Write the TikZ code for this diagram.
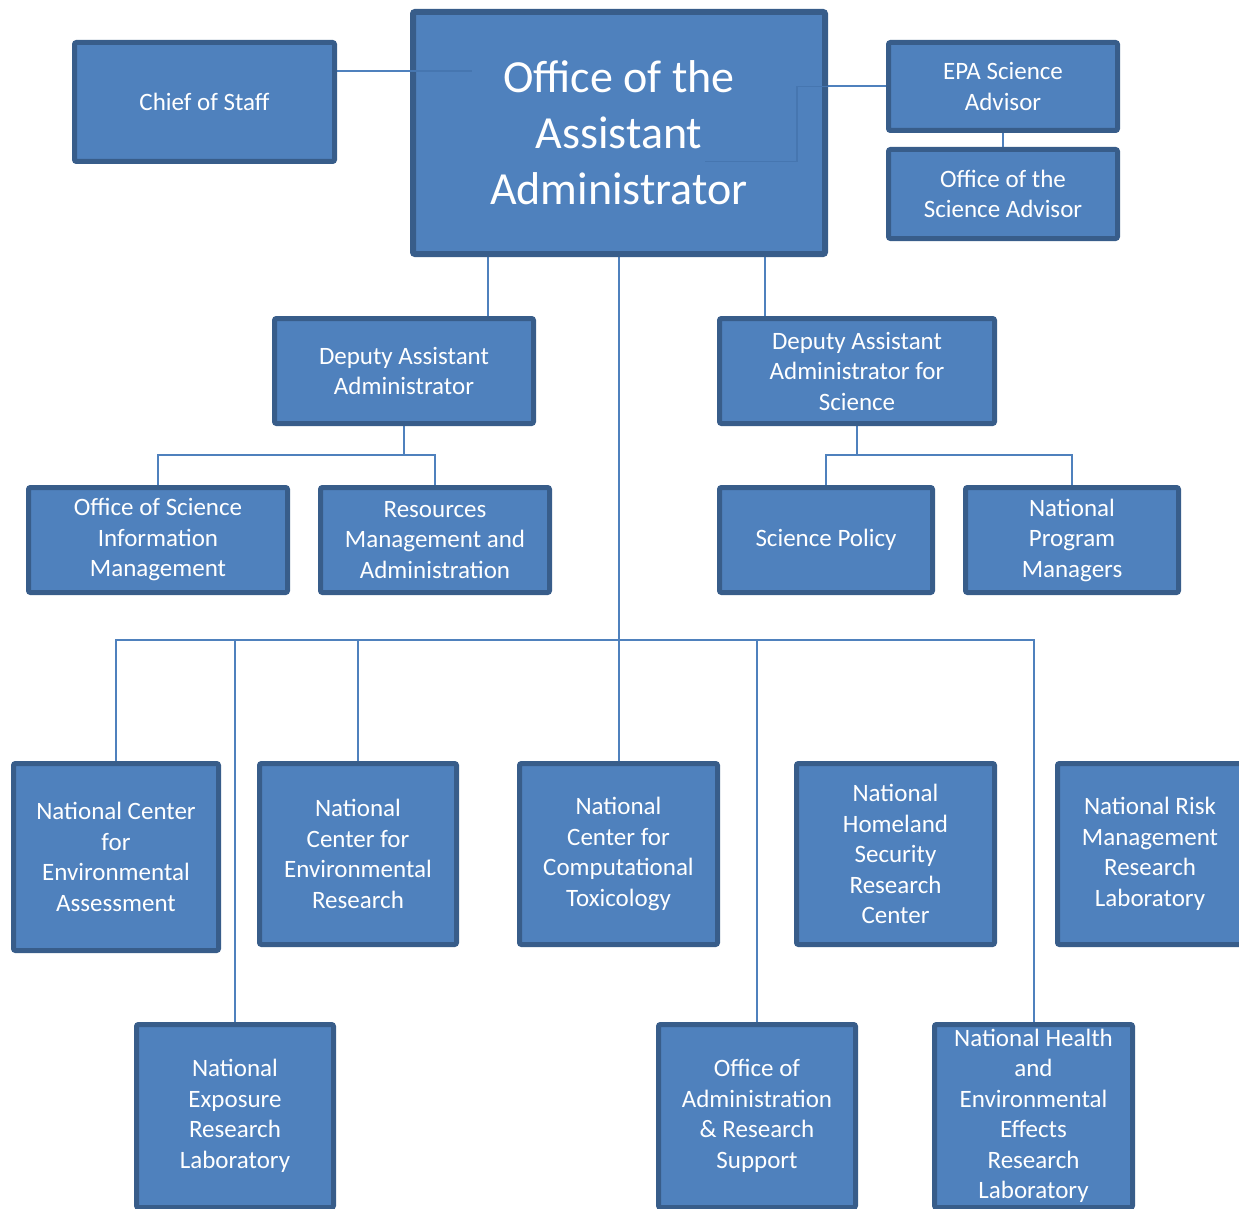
\documentclass[tikz,border=0pt]{standalone}
\usepackage{fontspec}
\setmainfont{Carlito}
\usetikzlibrary{backgrounds}
\definecolor{fillb}{HTML}{4F81BD}
\definecolor{edgeb}{HTML}{385D8A}
\definecolor{innerl}{HTML}{4676B0}
\begin{document}
\begin{tikzpicture}[x=1pt,y=-1pt,
  box/.style={draw=edgeb, fill=fillb, line width=5pt, rounded corners=2pt,
    text=white, align=center, inner sep=0pt, font=\fontsize{25}{30.5}\selectfont},
  conn/.style={draw=fillb, line width=2pt},
  faint/.style={draw=innerl, line width=1.2pt}]
\useasboundingbox (0,0) rectangle (1239,1209);
\clip (0,0) rectangle (1239,1209);

% top row
\node[box, minimum width=260pt, minimum height=119pt] (cos) at (204.5,102) {Chief of Staff};
\node[box, line width=6pt, minimum width=412pt, minimum height=242pt,
      font=\fontsize{46}{56}\selectfont] (main) at (619,133) {Office of the\\Assistant\\Administrator};
\node[box, minimum width=229pt, minimum height=88pt] (epa) at (1003,86.5) {EPA Science\\Advisor};
\node[box, minimum width=229pt, minimum height=89pt] (osa) at (1003,194) {Office of the\\Science Advisor};

% deputies
\node[box, minimum width=259pt, minimum height=105pt] (daa) at (404,371) {Deputy Assistant\\Administrator};
\node[box, minimum width=275pt, minimum height=105pt] (daas) at (857,371) {Deputy Assistant\\Administrator for\\Science};

% third row
\node[box, minimum width=259pt, minimum height=105pt] (osim) at (158,540) {Office of Science\\Information\\Management};
\node[box, minimum width=229pt, minimum height=105pt] (rma) at (435,540) {Resources\\Management and\\Administration};
\node[box, minimum width=213pt, minimum height=105pt] (sp) at (826,540) {Science Policy};
\node[box, minimum width=213pt, minimum height=105pt] (npm) at (1072,540) {National\\Program\\Managers};

% fourth row
\node[box, minimum width=205pt, minimum height=187pt] (ncea) at (116,857) {National Center\\for\\Environmental\\Assessment};
\node[box, minimum width=197pt, minimum height=181pt] (ncer) at (358,854) {National\\Center for\\Environmental\\Research};
\node[box, minimum width=198pt, minimum height=181pt] (ncct) at (618.5,854) {National\\Center for\\Computational\\Toxicology};
\node[box, minimum width=198pt, minimum height=181pt] (nhsrc) at (895.5,854) {National\\Homeland\\Security\\Research\\Center};
\node[box, minimum width=185pt, minimum height=181pt] (nrmrl) at (1150,854) {National Risk\\Management\\Research\\Laboratory};

% bottom row
\node[box, minimum width=197pt, minimum height=183pt] (nerl) at (235,1116) {National\\Exposure\\Research\\Laboratory};
\node[box, minimum width=197pt, minimum height=183pt] (oars) at (757,1116) {Office of\\Administration\\\& Research\\Support};
\node[box, minimum width=198pt, minimum height=183pt] (nheerl) at (1033.5,1116) {National Health\\and\\Environmental\\Effects\\Research\\Laboratory};

\coordinate (busA) at (404,455);
\coordinate (busB) at (857,455);
\coordinate (busC) at (619,640);

\begin{pgfonlayer}{background}
  \draw[conn] ([yshift=31pt]cos.east) -- ([yshift=31pt]cos.east -| main.west);
  \draw[conn] (epa.west) -- (epa.west -| main.east);
  \draw[conn] (epa.south) -- (osa.north);
  \draw[conn] ([xshift=-131pt]main.south) -- ([xshift=84pt]daa.north);
  \draw[conn] ([xshift=146pt]main.south) -- ([xshift=-92pt]daas.north);
  \draw[conn] (main.south) -- (main.south |- ncct.north);
  \draw[conn] (daa.south) -- (busA);
  \draw[conn] (osim.north) |- (busA) -| (rma.north);
  \draw[conn] (daas.south) -- (busB);
  \draw[conn] (sp.north) |- (busB) -| (npm.north);
  \draw[conn] (ncea.north) |- (busC);
  \draw[conn] (nerl.north) |- (busC);
  \draw[conn] (ncer.north) |- (busC);
  \draw[conn] (busC) -| (oars.north);
  \draw[conn] (busC) -| (nheerl.north);
\end{pgfonlayer}

\draw[faint] ([yshift=31pt]cos.east -| main.west) -- ++(62,0);
\draw[faint] (epa.west -| main.east) -- ++(-31,0) -- ++(0,75) -- ++(-92,0);
\end{tikzpicture}
\end{document}
